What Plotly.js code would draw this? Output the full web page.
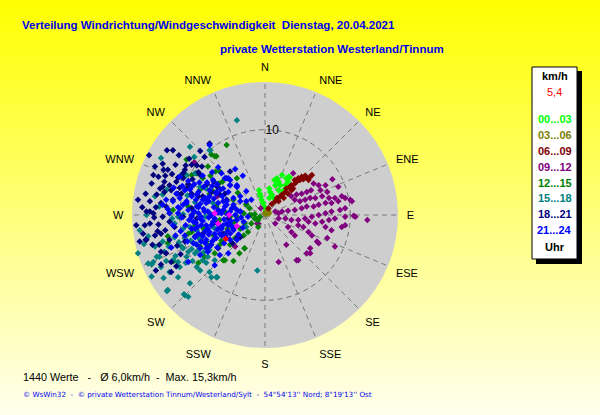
<!DOCTYPE html>
<html>
<head>
<meta charset="utf-8">
<script src="https://cdn.plot.ly/plotly-3.0.1.min.js"></script>
<style>
  html, body { margin: 0; padding: 0; }
  #chart { width: 600px; height: 415px; background: linear-gradient(to bottom, #ffff00 0%, #ffffee 100%); }
</style>
</head>
<body>
<div id="chart"></div>
<script>
// ---- Data (wind vectors as [east, north] components in km/h) ----
const timeSlots = ['00...03', '03...06', '06...09', '09...12', '12...15', '15...18', '18...21', '21...24'];
const directionLabels = ['N','NNE','NE','ENE','E','ESE','SE','SSE','S','SSW','SW','WSW','W','WNW','NW','NNW'];
const directionDegrees = [0,22.5,45,67.5,90,112.5,135,157.5,180,202.5,225,247.5,270,292.5,315,337.5];
const radialTicks = [10];
const currentSpeed = '5,4';
const countText = '1440 Werte';
const meanText = 'Ø 6,0km/h';
const maxText = 'Max. 15,3km/h';

const wind_00_03 = [
  [-0.7,2.9],[-0.6,2.5],[-0.5,2.2],[-0.4,1.8],[-0.2,1.4],[-0.1,1.0],[0.1,0.6],
  [0.5,3.1],[0.6,2.7],[0.8,2.4],[1.0,2.0],[1.2,1.6],[0.5,2.0],
  [1.4,4.3],[1.6,3.9],[1.8,3.5],[1.6,2.9],[1.2,3.5],[1.1,4.1],
  [2.5,4.3],[2.8,4.5],[2.7,3.9],[2.4,3.5],[2.2,2.9],[2.0,2.5],[2.0,4.7],[2.9,4.4]
];
const wind_03_06 = [
  [0.1,0.1],[0.3,0.3],[0.4,0.5],[0.2,0.4],[0.5,0.2],[0.0,0.2],[0.3,0.6]
];
const wind_06_09 = [
  [0.4,0.8],[0.8,1.3],[1.2,1.6],[1.4,2.0],[1.8,2.2],[2.0,2.4],[2.4,2.7],[2.5,3.1],
  [2.9,3.3],[3.1,3.5],[3.5,3.7],[3.7,3.9],[4.1,4.1],[4.5,4.2],[4.9,4.4],[5.3,4.5],
  [3.9,4.3],[4.3,4.5],[4.7,4.6],[3.3,3.1],[2.7,2.5],[2.2,2.0],[1.6,1.6],[3.1,2.9],
  [3.5,4.1],[5.1,4.1],[5.5,4.7]
];
const wind_09_12 = [
  [3.3,4.9],[7.9,4.2],[5.7,3.7],[6.3,3.5],[7.1,3.5],[6.5,2.9],[7.3,2.7],[5.4,2.9],
  [4.9,2.7],[4.3,2.5],[3.7,2.4],[3.1,2.2],[3.5,1.8],[4.1,1.6],[4.7,1.8],[5.3,2.0],
  [5.9,2.0],[6.7,2.2],[7.5,2.0],[8.2,2.0],[9.4,2.0],[10.2,1.6],[8.6,1.6],[7.8,1.4],
  [7.1,1.4],[6.3,1.2],[5.7,1.0],[4.9,1.0],[4.3,0.8],[3.5,0.6],[2.7,0.5],[2.0,0.4],
  [1.6,0.2],[1.2,0.4],[1.6,-0.4],[2.4,-0.4],[3.1,-0.6],[3.9,-0.6],[4.7,-0.4],[5.5,-0.2],
  [6.3,0.0],[7.1,0.2],[7.8,0.4],[8.8,0.6],[9.4,0.8],[10.6,-0.2],[9.4,-0.2],[8.2,-0.4],
  [7.5,-0.6],[6.7,-0.8],[5.9,-1.0],[5.1,-0.8],[4.5,-1.4],[3.9,-1.2],[2.7,-1.4],[3.1,-2.0],
  [3.5,-2.4],[5.1,-2.0],[5.5,-2.4],[7.1,-1.4],[7.8,-1.8],[9.0,-1.4],[9.4,-1.2],[6.1,-3.1],
  [7.3,-2.7],[8.2,-3.7],[5.3,-3.9],[4.9,-4.5],[3.7,-5.3],[2.5,-3.5],[1.6,-5.5],[1.2,-1.0],
  [12.0,-0.6],[10.4,-0.1],[3.9,-5.3],[6.3,-3.3],[5.3,-4.5],[8.6,3.3],[10.0,1.8],[9.0,2.2],
  [-8.3,6.2],[-5.6,2.2],[-3.5,-3.7],[-0.9,-1.0],[-0.8,-1.0],[-0.5,0.8]
];
const wind_12_15 = [
  [-4.5,8.2],[-6.3,7.1],[-5.7,6.9],[-3.3,4.3],[-2.2,1.3],[-1.6,0.0],[-1.2,0.1],[-2.4,-1.0],
  [-2.9,-1.6],[-2.5,-2.4],[-3.5,-2.7],[-4.1,-3.5],[-4.9,-5.3],[-7.1,-4.9],[-5.9,-4.5],[-6.9,-3.1],
  [-7.6,-3.7],[-8.2,-1.2],[-10.0,-0.2],[-10.8,0.6],[-11.4,-3.3],[-8.6,-2.0],[-5.3,-0.6],[-4.1,-0.2],
  [-3.7,1.8],[-5.7,1.0],[-6.5,2.5],[-7.3,4.3],[-8.0,4.9],[-5.3,5.1],[-6.7,5.7],[-9.2,6.5],
  [-9.8,4.7],[-1.0,-0.5],[-0.6,-0.2],[-1.8,0.8],[-2.5,0.2],[-3.3,-0.2],[-2.4,-3.9],[-6.5,0.2],
  [-4.7,-2.2],[-5.9,6.9],[-9.4,4.7],[-8.6,4.7],[-5.8,5.1],[-5.4,3.7],[-2.4,-3.9],[-3.7,-5.4],
  [-4.7,-5.3],[-5.3,-3.5],[-7.6,-2.9],[-10.7,-5.4],[-11.4,-2.5],[-2.2,1.2],[-1.8,0.0],[-1.6,-1.0],
  [-1.2,-0.4],[-0.8,-0.6],[-0.8,-1.4],
  [-6.1,2.8],[-5.0,3.9],[-4.6,0.3],[-3.9,-0.9],[-4.4,-1.6],[-5.1,-3.0],[-6.0,-2.4],[-7.2,-1.6],
  [-8.4,0.2],[-7.6,3.0],[-6.4,4.6],[-9.0,-2.2],[-6.6,-3.6],[-3.2,2.6],[-2.0,-2.0],[-3.0,-4.5],
  [-7.8,-5.6],[-9.0,1.0],[-5.8,-0.8],[-3.6,-0.8]
];
const wind_15_18 = [
  [-13.7,-5.7],[-13.1,-5.5],[-14.9,-4.5],[-11.4,-8.8],[-9.4,-9.4],[-9.0,-9.6],[-8.8,-8.0],[-6.5,-6.7],
  [-5.7,-7.3],[-12.4,-4.9],[-11.8,-4.3],[-10.8,-5.3],[-10.2,-5.5],[-9.2,-4.9],[-8.2,-4.5],[-7.3,-5.3],
  [-10.0,-6.1],[-11.2,-6.7],[-12.2,-6.1],[-8.0,-6.1],[-3.3,11.1],[-8.8,8.0],[-6.4,7.6],[-12.2,6.7],
  [-12.0,-3.1],[-12.9,-3.7],[-13.7,-2.5],[-14.7,-1.8],[-0.9,-6.5],[-10.6,-1.0],[-9.6,-1.6],[-8.8,-1.4],
  [-8.0,-1.8],[-7.5,-2.5],[-10.2,-0.2],[-11.2,0.2],[-9.2,4.7],[-8.2,4.9],[-7.6,3.3],[-6.9,3.1],
  [-6.1,1.4],[-5.3,0.4],[-9.8,-3.7],[-9.0,-4.3],[-6.7,-4.9],[-5.9,-5.3],[-13.9,0.0],[-6.5,7.6],
  [-8.3,6.8],[-13.3,-5.8],[-13.3,-7.2],[-11.5,-8.9],[-9.5,-9.3],[-6.3,-7.3],[-5.6,-7.3],[-2.2,-1.4],
  [-10.6,-2.6],[-10.1,-3.2],[-9.4,-2.7],[-8.7,-3.0],[-8.1,-3.4],[-7.7,-2.8],[-9.6,-3.9],[-8.6,-4.0],
  [-7.9,-4.2],[-7.2,-4.4],[-6.5,-4.1],[-11.3,-3.7],[-12.7,-4.9],[-11.6,-5.4],[-10.5,-4.8],[-9.3,-5.6],
  [-8.5,-5.4],[-7.6,-6.5],[-6.9,-5.6],[-11.9,-7.4],[-10.2,-7.3],[-12.4,1.0],[-12.9,2.2],[-11.5,3.0],
  [-9.1,2.3],[-8.2,1.5],[-7.0,-0.2],[-6.0,-1.5],[-9.6,0.1],[-10.9,-0.4],[-12.0,2.4],[-14.2,-3.4]
];
const wind_18_21 = [
  [-13.6,7.0],[-10.8,7.6],[-6.5,8.4],[-11.4,5.3],[-12.9,5.7],[-13.1,4.7],[-14.9,1.8],[-13.9,0.4],
  [-13.5,0.4],[-12.7,2.4],[-12.0,3.3],[-11.2,3.5],[-10.4,3.9],[-12.2,1.4],[-9.4,5.3],[-8.6,5.9],
  [-8.0,5.8],[-7.6,4.7],[-9.6,4.3],[-9.2,3.1],[-10.2,2.5],[-10.8,1.8],[-11.6,1.0],[-13.1,0.2],
  [-14.1,-1.2],[-13.5,-1.0],[-12.9,-2.4],[-13.9,-2.9],[-14.7,-3.1],[-12.4,-3.5],[-11.0,-5.5],[-11.6,-4.5],
  [-12.2,-2.2],[-10.6,-1.4],[-9.6,-0.2],[-8.6,0.8],[-7.3,2.2],[-6.3,2.7],[-5.3,2.4],[-4.7,2.5],
  [-4.5,1.8],[-5.3,-1.4],[-6.1,-1.0],[-7.3,-2.2],[-8.2,-2.5],[-9.4,-3.1],[-5.5,-3.9],[-4.9,-2.2],
  [-15.1,-1.2],[-12.5,4.5],[-11.8,2.7],[-9.8,2.5],[-8.6,2.5],[-7.8,2.2],[-6.9,1.8],[-12.0,-0.2],
  [-11.2,-0.8],[-8.0,-0.4],[-4.3,-0.4],[-3.3,-2.7],[-7.4,5.7],[-4.1,5.1],[-11.8,3.9],[-11.0,-6.7],
  [-12.2,-5.8],[-12.6,-1.9],[-14.0,-2.9],
  [-10.2,4.4],[-9.6,4.9],[-10.9,4.8],[-11.7,4.6],[-12.3,3.1],[-11.0,2.9],[-10.0,3.2],[-9.0,3.6],
  [-8.5,4.2],[-7.8,5.0],[-9.3,5.8],[-10.5,5.9],[-12.0,6.0],[-13.3,3.7],[-14.0,2.5],[-13.5,1.6],
  [-12.8,0.9],[-13.0,-0.3],[-12.5,-1.1],[-11.7,-1.8],[-11.2,-2.9],[-12.2,-4.3],[-13.2,-3.5],[-14.3,-2.2],
  [-10.3,-3.6],[-9.9,-4.6],[-10.4,-6.0],[-12.8,-6.5],[-14.4,0.9],[-11.9,5.3],[-8.9,6.6],[-7.1,6.8],
  [-7.6,7.5],[-10.1,7.0],[-11.5,7.6],[-6.0,3.9],[-5.6,3.3],[-6.8,3.6],[-3.8,-3.3],[-2.9,-2.6]
];
const wind_21_24 = [
  [-6.5,8.2],[-10.0,4.5],[-9.4,2.9],[-8.0,2.4],[-6.5,2.9],[-5.7,2.5],[-4.5,4.3],[-4.1,3.5],
  [-3.3,3.5],[-2.9,2.2],[-2.2,1.6],[-3.7,1.2],[-4.9,1.6],[-6.9,1.4],[-8.0,1.0],[-9.2,1.6],
  [-10.0,2.0],[-10.8,1.6],[-11.6,1.8],[-12.0,1.2],[-11.2,0.2],[-10.2,0.2],[-8.6,0.0],[-7.5,-0.2],
  [-6.3,0.0],[-5.1,0.2],[-4.1,0.4],[-2.9,0.4],[-2.0,-0.2],[-5.9,-5.9],[-9.0,-5.5],[-11.0,-3.8],
  [-8.0,-3.5],[-7.5,-3.1],[-6.9,-3.9],[-6.5,-3.7],[-5.7,-2.7],[-5.1,-2.4],[-4.5,-2.7],[-4.1,-2.9],
  [-8.4,-0.8],[-7.6,-0.4],[-6.9,-1.2],[-6.1,-0.8],[-5.3,-1.4],[-4.5,-1.0],[-3.7,-1.6],[-6.5,-2.0],
  [-7.8,-2.2],[-9.4,-2.4],[-3.3,-0.6],[-2.5,-0.8],[-4.1,-2.2],[-4.3,-4.5],[-3.3,-2.9],[-8.6,-0.2],
  [-7.8,0.2],[-7.1,0.4],[-6.3,0.0],[-5.5,0.6],[-4.7,1.0],[-3.9,0.8],[-3.5,0.0],[-2.9,0.4],
  [-8.2,-1.6],[-7.5,-1.2],[-6.7,-1.6],[-5.9,-2.2],[-5.1,-1.6],[-4.3,-1.2],[-3.7,-1.8],[-6.9,-2.9],
  [-6.3,-3.5],[-7.6,-3.9],[-8.4,-3.3],[-5.3,-4.7],[-7.3,1.8],[-6.5,2.2],[-5.7,2.7],[-4.9,3.1],
  [-4.1,3.5],[-3.3,3.3],[-7.8,2.7],[-8.6,3.3],[-6.1,4.1],[-5.1,4.9],[-4.3,4.3],[-9.2,1.4],
  [-10.0,0.8],
  [-8.8,3.0],[-8.3,3.6],[-7.7,3.8],[-7.2,3.3],[-6.8,3.8],[-6.2,3.4],[-5.6,3.6],[-5.2,3.0],
  [-8.6,2.2],[-8.1,1.8],[-7.6,1.3],[-7.0,2.0],[-6.6,1.6],[-6.0,1.9],[-5.5,1.4],[-5.0,2.2],[-4.5,1.6],
  [-9.0,0.6],[-8.3,0.4],[-7.8,0.9],[-7.2,0.7],[-6.7,0.4],[-6.0,0.9],[-5.5,0.3],[-4.9,0.6],[-4.4,0.1],
  [-8.9,-0.6],[-8.1,-0.9],[-7.3,-0.7],[-6.6,-0.3],[-5.9,-0.4],[-5.6,-1.0],[-4.8,-0.5],[-4.0,-0.7],
  [-8.6,-1.6],[-7.9,-1.4],[-7.0,-1.9],[-6.3,-1.2],[-5.6,-1.7],[-4.9,-1.2],[-4.4,-1.9],[-3.9,-1.3],
  [-7.3,-2.5],[-6.6,-2.3],[-5.9,-2.8],[-5.3,-2.2],[-4.7,-2.4],[-6.2,-3.1],[-7.0,-3.3],
  [-4.7,4.3],[-4.1,4.1],[-3.3,3.3],[-4.3,2.7],[-3.7,2.0],[-2.9,1.6],[-4.5,1.2],[-3.5,0.8],
  [-9.6,1.2],[-10.2,0.9],[-9.8,-0.3],[-9.3,-1.2],[-9.9,-1.9],[-10.4,2.5],[-9.7,3.4],
  [-2.6,-1.5],[-3.1,-2.3],[-2.8,-0.3],[-3.2,0.5],[-4.8,-3.3],[-5.6,-3.8],[-6.7,-4.3],[-7.6,-4.7],
  [-8.2,-2.6],[-9.1,-3.1],[-10.5,-2.4],[-10.8,-1.2],[-11.4,0.7],[-10.7,3.2],[-9.0,4.0],[-7.3,4.6],
  [-6.2,5.0],[-5.5,5.6],[-3.5,5.4],[-2.6,4.6],[-2.2,2.8],[-1.6,1.8]
];
const windHighlight = [[-4.2,0.0],[-3.3,-1.3],[-5.9,0.2],[-5.5,-1.0]];
const windCurrent = [[-4.6,-2.8]];

// ---- Styles ----
const slotColors = ['#00ff00','#808000','#800000','#800080','#008000','#008080','#000080','#0000ff'];
const slotData = [wind_00_03, wind_03_06, wind_06_09, wind_09_12, wind_12_15, wind_15_18, wind_18_21, wind_21_24];

function toPolar(pairs) {
  return {
    r: pairs.map(p => Math.hypot(p[0], p[1])),
    theta: pairs.map(p => (Math.atan2(p[0], p[1]) * 180 / Math.PI + 360) % 360)
  };
}
function trace(pairs, color) {
  const pp = toPolar(pairs);
  return {
    type: 'scatterpolar', mode: 'markers', r: pp.r, theta: pp.theta,
    marker: { symbol: 'diamond', size: 5, color: color, line: { width: 0 } },
    hoverinfo: 'skip', showlegend: false
  };
}
const traces = slotData.map((d, i) => trace(d, slotColors[i]));
traces.push(trace(windHighlight, '#ff00ff'));
traces.push(trace(windCurrent, '#ff0000'));

const W = 600, H = 415;
const px = x => x / W, py = y => 1 - y / H;
const nb = s => s.replace(/ /g, '\u00a0');

const annotations = [
  { text: nb('Verteilung Windrichtung/Windgeschwindigkeit  Dienstag, 20.04.2021'), x: px(20), y: py(25), xanchor: 'left', yanchor: 'middle',
    font: { family: 'Liberation Sans, Arial', size: 11.5, color: '#0000ee', weight: 'bold' } },
  { text: 'private Wetterstation Westerland/Tinnum', x: px(218), y: py(49), xanchor: 'left', yanchor: 'middle',
    font: { family: 'Liberation Sans, Arial', size: 11.5, color: '#0000ee', weight: 'bold' } },
  { text: 'km/h', x: px(554.5), y: py(76), xanchor: 'center', yanchor: 'middle',
    font: { family: 'Liberation Sans, Arial', size: 11, color: '#000000', weight: 'bold' } },
  { text: currentSpeed, x: px(554.5), y: py(92), xanchor: 'center', yanchor: 'middle',
    font: { family: 'Liberation Sans, Arial', size: 11, color: '#ff0000' } },
  { text: 'Uhr', x: px(554.5), y: py(247), xanchor: 'center', yanchor: 'middle',
    font: { family: 'Liberation Sans, Arial', size: 11, color: '#000000', weight: 'bold' } },
  { text: nb(countText + '   -   ' + meanText + '  -  ' + maxText), x: px(21), y: py(377), xanchor: 'left', yanchor: 'middle',
    font: { family: 'Liberation Sans, Arial', size: 10.8, color: '#000000' } },
  { text: nb('© WsWin32  -  © private Wetterstation Tinnum/Westerland/Sylt  -  54°54\'13\'\' Nord; 8°19\'13\'\' Ost'), x: px(21), y: py(394), xanchor: 'left', yanchor: 'middle',
    font: { family: 'DejaVu Sans, Verdana', size: 7.2, color: '#0000ee' } }
];
const slotY = [119, 135, 151, 167, 183, 198, 214, 230];
timeSlots.forEach((t, i) => annotations.push({
  text: t, x: px(554.5), y: py(slotY[i]), xanchor: 'center', yanchor: 'middle',
  font: { family: 'Liberation Sans, Arial', size: 11, color: slotColors[i], weight: 'bold' }
}));
annotations.forEach(a => { a.xref = 'paper'; a.yref = 'paper'; a.showarrow = false; });

const shapes = [
  { type: 'rect', xref: 'paper', yref: 'paper', x0: px(536), x1: px(582), y0: py(71), y1: py(264), fillcolor: '#000000', line: { width: 0 }, layer: 'below' },
  { type: 'rect', xref: 'paper', yref: 'paper', x0: px(532), x1: px(577), y0: py(67), y1: py(259), fillcolor: '#ffffff', line: { color: '#000000', width: 1 }, layer: 'below' }
];

const cx = 265, cy = 215, R = 133;
const layout = {
  width: W, height: H,
  margin: { l: 0, r: 0, t: 0, b: 0 },
  paper_bgcolor: 'rgba(0,0,0,0)',
  plot_bgcolor: 'rgba(0,0,0,0)',
  showlegend: false,
  font: { family: 'Liberation Sans, Arial', size: 11, color: '#000000' },
  polar: {
    domain: { x: [px(cx - R), px(cx + R)], y: [py(cy + R), py(cy - R)] },
    bgcolor: '#cecece',
    angularaxis: {
      rotation: 90, direction: 'clockwise',
      tickmode: 'array', tickvals: directionDegrees, ticktext: directionLabels,
      showline: false, ticks: 'outside', ticklen: 6, tickcolor: 'rgba(0,0,0,0)', showgrid: true,
      gridcolor: '#7a7a7a', griddash: '5px,4px', gridwidth: 1,
      tickfont: { family: 'Liberation Sans, Arial', size: 11, color: '#000000' }
    },
    radialaxis: {
      range: [0, 15.6], angle: 90, tickangle: 90,
      tickmode: 'array', tickvals: radialTicks, ticktext: radialTicks.map(String),
      showline: false, ticks: '', showgrid: true,
      gridcolor: '#6e6e6e', griddash: '5px,4px', gridwidth: 1,
      tickfont: { family: 'Liberation Sans, Arial', size: 12, color: '#000000' }
    }
  },
  annotations: annotations,
  shapes: shapes
};

Plotly.newPlot('chart', traces, layout, { staticPlot: true, displayModeBar: false });
</script>
</body>
</html>
